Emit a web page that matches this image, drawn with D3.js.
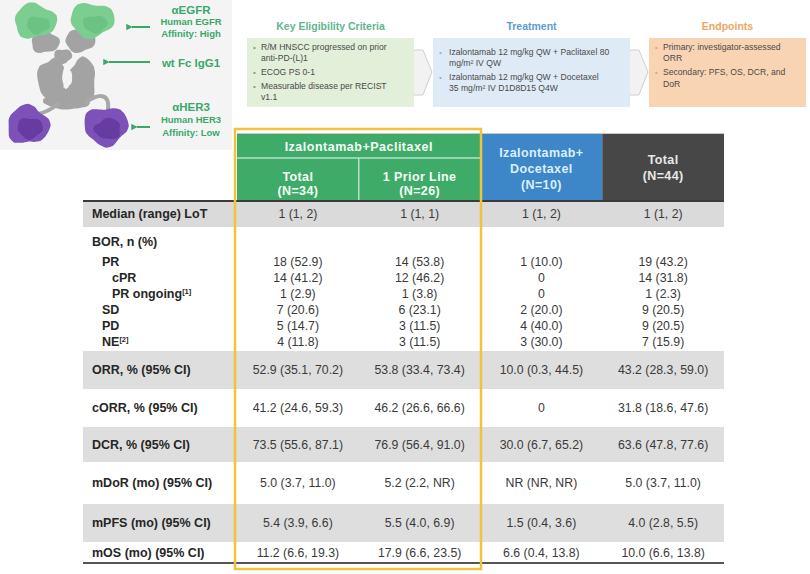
<!DOCTYPE html>
<html><head><meta charset="utf-8">
<script src="https://cdn.jsdelivr.net/npm/d3@7"></script>
<style>
body{margin:0;background:#fff;}
svg{display:block;font-family:"Liberation Sans",Arial,Helvetica,sans-serif;}
</style>
</head><body>
<svg id="c" width="810" height="574"></svg>
<script>
// ---------------- DATA ----------------
const groupTitle = "Izalontamab+Paclitaxel";
const columnKeys = ["t34", "p26", "d10", "t44"];
const columnHeaders = [["Total", "(N=34)"], ["1 Prior Line", "(N=26)"], ["Izalontamab+", "Docetaxel", "(N=10)"], ["Total", "(N=44)"]];
const rowLabels = ["Median (range) LoT", "BOR, n (%)", "PR", "cPR", "PR ongoing", "SD", "PD", "NE",
  "ORR, % (95% CI)", "cORR, % (95% CI)", "DCR, % (95% CI)", "mDoR (mo) (95% CI)", "mPFS (mo) (95% CI)", "mOS (mo) (95% CI)"];
const rowNotes = ["", "", "", "", "[1]", "", "", "[2]", "", "", "", "", "", ""];
const rowLevels = [0, 0, 1, 2, 2, 1, 1, 1, 0, 0, 0, 0, 0, 0];
const valuesTotal34 = ["1 (1, 2)", "", "18 (52.9)", "14 (41.2)", "1 (2.9)", "7 (20.6)", "5 (14.7)", "4 (11.8)",
  "52.9 (35.1, 70.2)", "41.2 (24.6, 59.3)", "73.5 (55.6, 87.1)", "5.0 (3.7, 11.0)", "5.4 (3.9, 6.6)", "11.2 (6.6, 19.3)"];
const valuesPrior26 = ["1 (1, 1)", "", "14 (53.8)", "12 (46.2)", "1 (3.8)", "6 (23.1)", "3 (11.5)", "3 (11.5)",
  "53.8 (33.4, 73.4)", "46.2 (26.6, 66.6)", "76.9 (56.4, 91.0)", "5.2 (2.2, NR)", "5.5 (4.0, 6.9)", "17.9 (6.6, 23.5)"];
const valuesDoce10 = ["1 (1, 2)", "", "1 (10.0)", "0", "0", "2 (20.0)", "4 (40.0)", "3 (30.0)",
  "10.0 (0.3, 44.5)", "0", "30.0 (6.7, 65.2)", "NR (NR, NR)", "1.5 (0.4, 3.6)", "6.6 (0.4, 13.8)"];
const valuesTotal44 = ["1 (1, 2)", "", "19 (43.2)", "14 (31.8)", "1 (2.3)", "9 (20.5)", "9 (20.5)", "7 (15.9)",
  "43.2 (28.3, 59.0)", "31.8 (18.6, 47.6)", "63.6 (47.8, 77.6)", "5.0 (3.7, 11.0)", "4.0 (2.8, 5.5)", "10.0 (6.6, 13.8)"];
// row groups (bands) of the table: indices into rowLabels
const bandRows = [[0], [1, 2, 3, 4, 5, 6, 7], [8], [9], [10], [11], [12], [13]];

const flowTitles = ["Key Eligibility Criteria", "Treatment", "Endpoints"];
const flowBullets = [
  [["R/M HNSCC progressed on prior", "anti-PD-(L)1"], ["ECOG PS 0-1"], ["Measurable disease per RECIST", "v1.1"]],
  [["Izalontamab 12 mg/kg QW + Paclitaxel 80", "mg/m² IV QW"], ["Izalontamab 12 mg/kg QW + Docetaxel", "35 mg/m² IV D1D8D15 Q4W"]],
  [["Primary: investigator-assessed", "ORR"], ["Secondary: PFS, OS, DCR, and", "DoR"]]
];
const antibodyLabels = [["αEGFR", "Human EGFR", "Affinity: High"], ["wt Fc IgG1"], ["αHER3", "Human HER3", "Affinity: Low"]];

// ---------------- LAYOUT / STYLE ----------------
const svg = d3.select("#c");
const valueCols = [valuesTotal34, valuesPrior26, valuesDoce10, valuesTotal44];
const tableLeft = 83, tableRight = 724;
const x = d3.scaleBand().domain(columnKeys).range([237, tableRight]);
const bandHeights = [26, 124, 38, 38, 35, 42, 38, 21];
const bandShade = [true, false, true, false, true, false, true, false];
const bodyTop = 201;
const bandTops = bandHeights.reduce((a, h) => { a.push(a[a.length - 1] + h); return a; }, [bodyTop]);

// ---------- antibody illustration ----------
svg.append("rect").attr("x", 0).attr("y", 0).attr("width", 232).attr("height", 150).attr("fill", "#f4f4f4");
const ab = svg.append("g");
function blob(cx, cy, rx, ry, seed) {
  const n = 20, pts = [];
  for (let i = 0; i < n; i++) {
    const a = i / n * Math.PI * 2;
    const k = 1 + 0.09 * Math.sin(a * 3 + seed) + 0.06 * Math.cos(a * 5 + seed * 1.7);
    pts.push([cx + Math.cos(a) * rx * k, cy + Math.sin(a) * ry * k]);
  }
  return d3.line().curve(d3.curveCardinalClosed.tension(0.3))(pts);
}
const grayShapes = [[45, 42, 14, 11, 1], [80, 41, 15, 11, 2], [63, 56, 9, 7, 3], [52, 80, 14, 22, 4], [82, 80, 14, 22, 5], [67, 99, 22, 11, 6]];
grayShapes.forEach(s => ab.append("path").attr("d", blob(...s)).attr("fill", "#a3a3a3"));
ab.append("path").attr("d", blob(67, 78, 5, 10, 2)).attr("fill", "#f4f4f4");
ab.append("path").attr("d", "M58,104 Q48,112 38,114").attr("fill", "none").attr("stroke", "#a8a8a8").attr("stroke-width", 4).attr("stroke-linecap", "round");
ab.append("path").attr("d", "M86,102 C98,94 110,92 108,110").attr("fill", "none").attr("stroke", "#a8a8a8").attr("stroke-width", 4).attr("stroke-linecap", "round");
[[35, 21, 21, 17, 1.3], [92, 20, 22, 17, 2.4]].forEach(s => {
  ab.append("path").attr("d", blob(...s)).attr("fill", "#7ccd90");
  ab.append("path").attr("d", blob(s[0] + 3, s[1] + 4, s[2] * 0.55, s[3] * 0.5, s[4] + 1)).attr("fill", "#62bb79").attr("opacity", 0.6);
});
[[28, 125, 21, 19, 0.7], [106, 126, 22, 19, 3.1]].forEach(s => {
  ab.append("path").attr("d", blob(...s)).attr("fill", "#7c52b9");
  ab.append("path").attr("d", blob(s[0] + 2, s[1] + 3, s[2] * 0.6, s[3] * 0.55, s[4] + 2)).attr("fill", "#5e3399").attr("opacity", 0.7);
});
const green = "#3aa86a";
svg.append("defs").append("marker").attr("id", "ah").attr("viewBox", "0 0 10 10").attr("refX", 1).attr("refY", 5)
  .attr("markerWidth", 3.2).attr("markerHeight", 3.2).attr("orient", "auto")
  .append("path").attr("d", "M10,0 L0,5 L10,10 z").attr("fill", green);
const arrowSpecs = [[150, 128, 27], [150, 105, 62], [150, 133, 127]];
arrowSpecs.forEach(a => svg.append("line").attr("x1", a[0]).attr("x2", a[1] + 4).attr("y1", a[2]).attr("y2", a[2])
  .attr("stroke", green).attr("stroke-width", 2).attr("marker-end", "url(#ah)"));
const abLabelY = [[10, 22, 34], [63], [107, 120, 133]];
antibodyLabels.forEach((grp, gi) => grp.forEach((t, i) => {
  svg.append("text").attr("x", 191).attr("y", abLabelY[gi][i]).attr("dy", "0.35em").attr("text-anchor", "middle")
    .attr("fill", green).attr("font-weight", "bold").attr("font-size", (i === 0 ? 11.5 : 9.5) + "px").text(t);
}));

// ---------- flow boxes ----------
const flowBox = [[247, 414], [433, 630], [649, 806]];
const flowFill = ["#e2efd9", "#deebf7", "#f9d4b3"];
const flowTitleColor = ["#62b58e", "#5d9bd3", "#f0a565"];
const flowBulletColor = ["#6aaa6a", "#8fb4da", "#e8a06a"];
const flowLineY = [[[47, 58], [72], [86, 97]], [[52, 63], [77, 88]], [[47, 58], [72, 84]]];
flowTitles.forEach((t, i) => {
  const [x0, x1] = flowBox[i];
  svg.append("text").attr("x", (x0 + x1) / 2).attr("y", 26).attr("dy", "0.35em").attr("text-anchor", "middle")
    .attr("font-weight", "bold").attr("font-size", "10.5px").attr("fill", flowTitleColor[i]).text(t);
  svg.append("rect").attr("x", x0).attr("y", 38).attr("width", x1 - x0).attr("height", 69).attr("fill", flowFill[i]);
  const tx = x0 + (i === 1 ? 16 : 14);
  flowBullets[i].forEach((lines, bi) => {
    svg.append("text").attr("x", x0 + 6).attr("y", flowLineY[i][bi][0]).attr("dy", "0.35em")
      .attr("font-size", "8px").attr("fill", flowBulletColor[i]).text("•");
    lines.forEach((ln, li) => svg.append("text").attr("x", tx).attr("y", flowLineY[i][bi][li]).attr("dy", "0.35em")
      .attr("font-size", "8.6px").attr("fill", "#4a4a4a").text(ln));
  });
});
[[414, 433], [630, 649]].forEach(([a, b]) => {
  svg.append("path").attr("d", `M${a},50 L${a + 9},50 L${b - 1},72 L${a + 9},95 L${a},95`)
    .attr("fill", "#f2f2f2").attr("stroke", "#cfcfcf").attr("stroke-width", 1);
});

// ---------- table header ----------
const hdr = svg.append("g");
hdr.append("line").attr("x1", 237).attr("x2", tableRight).attr("y1", 133.5).attr("y2", 133.5).attr("stroke", "#c8c8c8");
const gx0 = x("t34"), gx1 = x("p26") + x.bandwidth();
const greenFill = "#3fab68";
hdr.append("rect").attr("x", gx0).attr("y", 134).attr("width", gx1 - gx0).attr("height", 67).attr("fill", greenFill);
hdr.append("line").attr("x1", gx0).attr("x2", gx1).attr("y1", 158).attr("y2", 158).attr("stroke", "#b8e2c6").attr("stroke-width", 1.5);
hdr.append("line").attr("x1", x("p26")).attr("x2", x("p26")).attr("y1", 158).attr("y2", 201).attr("stroke", "#b8e2c6").attr("stroke-width", 1.5);
hdr.append("text").attr("x", (gx0 + gx1) / 2).attr("y", 147).attr("dy", "0.35em").attr("text-anchor", "middle")
  .attr("fill", "#f4fff8").attr("font-weight", "bold").attr("font-size", "12.5px").attr("letter-spacing", "0.5px").text(groupTitle);
hdr.append("rect").attr("x", x("d10")).attr("y", 134).attr("width", x.bandwidth()).attr("height", 67).attr("fill", "#3d86c7");
hdr.append("rect").attr("x", x("t44")).attr("y", 134).attr("width", x.bandwidth()).attr("height", 67).attr("fill", "#474747");
const hdrLineY = [[177, 191], [177, 191], [153, 169, 185], [160, 176]];
const hdrColor = ["#f4fff8", "#f4fff8", "#d9efff", "#e8e8e8"];
columnHeaders.forEach((lines, ci) => {
  const cx = x(columnKeys[ci]) + x.bandwidth() / 2;
  lines.forEach((t, li) => hdr.append("text").attr("x", cx).attr("y", hdrLineY[ci][li]).attr("dy", "0.35em")
    .attr("text-anchor", "middle").attr("fill", hdrColor[ci]).attr("font-weight", "bold")
    .attr("font-size", "12.5px").attr("letter-spacing", "0.4px").text(t));
});

// ---------- table body ----------
const body = svg.append("g");
bandRows.forEach((rows, bi) => {
  if (bandShade[bi]) body.append("rect").attr("x", tableLeft).attr("y", bandTops[bi])
    .attr("width", tableRight - tableLeft).attr("height", bandHeights[bi]).attr("fill", bi === 0 ? "#dadada" : "#dedede");
});
function rowY(r) {
  for (let bi = 0; bi < bandRows.length; bi++) {
    const idx = bandRows[bi].indexOf(r);
    if (idx < 0) continue;
    if (bandRows[bi].length === 1) return bandTops[bi] + bandHeights[bi] / 2;
    return idx === 0 ? bandTops[bi] + 15 : bandTops[bi] + 35 + (idx - 1) * 16;
  }
}
const indent = [92, 102, 112];
rowLabels.forEach((lab, r) => {
  const t = body.append("text").attr("x", indent[rowLevels[r]]).attr("y", rowY(r)).attr("dy", "0.35em")
    .attr("font-weight", "bold").attr("font-size", "12.5px").attr("fill", "#262626").text(lab);
  if (rowNotes[r]) t.append("tspan").attr("font-size", "7.5px").attr("dy", "-4").text(rowNotes[r]);
  valueCols.forEach((col, ci) => {
    if (!col[r]) return;
    body.append("text").attr("x", x(columnKeys[ci]) + x.bandwidth() / 2).attr("y", rowY(r)).attr("dy", "0.35em")
      .attr("text-anchor", "middle").attr("font-size", "12.3px").attr("fill", "#3a3a3a").text(col[r]);
  });
});
body.append("line").attr("x1", tableLeft).attr("x2", tableRight).attr("y1", bodyTop).attr("y2", bodyTop).attr("stroke", "#3a3a3a").attr("stroke-width", 2);
const bottomY = bandTops[bandTops.length - 1];
body.append("line").attr("x1", tableLeft).attr("x2", tableRight).attr("y1", bottomY).attr("y2", bottomY).attr("stroke", "#555").attr("stroke-width", 2);

// ---------- highlight box ----------
svg.append("rect").attr("x", 235).attr("y", 129).attr("width", 246).attr("height", 440)
  .attr("fill", "none").attr("stroke", "#f0c33c").attr("stroke-width", 2.5);
</script>
</body></html>
